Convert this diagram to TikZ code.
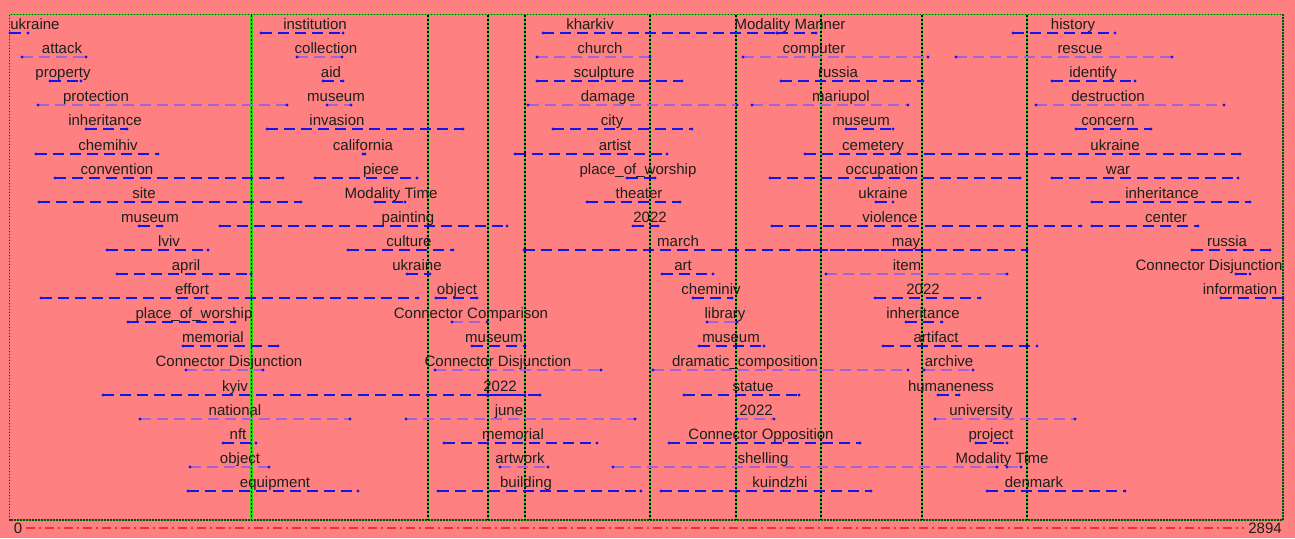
\documentclass[tikz,border=0pt]{standalone}
\usepackage{fontspec}
\setmainfont{Liberation Sans}
\definecolor{bgsalmon}{RGB}{255,128,128}
\definecolor{lnblue}{RGB}{20,20,240}
\definecolor{lnlav}{RGB}{160,100,215}
\definecolor{vgreen}{RGB}{40,220,20}
\definecolor{axred}{RGB}{235,50,50}
\definecolor{txt}{RGB}{30,30,30}
\newcommand\spanrow[7]{%
  \node[lbl] (#1) at (#2,{24+(#3-1)*24.1+5.5}) {#4};
  \coordinate (#1-a) at (#5,{round(24+(#3-1)*24.1+9)});
  \coordinate (#1-b) at (#6,{round(24+(#3-1)*24.1+9)});
  \draw[#7] (#1-a) -- (#1-b);
  \fill[endpt] (#1-a) circle[radius=1.7pt] (#1-b) circle[radius=1.7pt];
}
\begin{document}
\begin{tikzpicture}[x=1pt,y=-1pt,
  lbl/.style={anchor=base,inner sep=0pt,text=txt,font=\fontsize{15}{18}\selectfont},
  bl/.style={draw=lnblue,line width=1.8pt,dash pattern=on 11pt off 6pt},
  lv/.style={draw=lnlav,line width=1.8pt,dash pattern=on 11pt off 6pt},
  endpt/.style={fill=lnblue},
  vgrid/.style={draw=vgreen,line width=2.8pt},
  vdash/.style={draw=black,line width=1.8pt,dash pattern=on 2pt off 2pt},
  axlbl/.style={inner sep=0pt,text=txt,font=\fontsize{15}{18}\selectfont}]
\useasboundingbox (0,0) rectangle (1295,538);
\fill[bgsalmon] (0,0) rectangle (1295,538);
% frame
\coordinate (f1) at (9.5,14.7);
\coordinate (f2) at (1283,520);
\draw[draw=vgreen,line width=1.2pt] (f1) rectangle (f2);
\draw[draw=black!80,line width=1.2pt,dash pattern=on 1.5pt off 1.5pt] (f1) rectangle (f2);
% vertical lines
\foreach \vx in {251.5,428,488,525,650,736,821,922,1027}{
  \coordinate (vt) at (\vx,14.7);
  \coordinate (vb) at (\vx,520);
  \draw[vgrid] (vt) -- (vb);
  \draw[vdash] (vt) -- (vb);
}
% axis
\node[axlbl] (ax0) at (18,528) {0};
\node[axlbl] (axmax) at (1265,528) {2894};
\draw[draw=axred,line width=1.3pt,dash pattern=on 9pt off 4pt on 2pt off 4pt] ([xshift=4pt]ax0.east) -- ([xshift=-4pt]axmax.west);
% group 1
\spanrow{a1}{35}{1}{ukraine}{10}{28}{bl}
\spanrow{a2}{62}{2}{attack}{22}{86}{lv}
\spanrow{a3}{63}{3}{property}{50}{81}{bl}
\spanrow{a4}{96}{4}{protection}{38}{287}{lv}
\spanrow{a5}{105}{5}{inheritance}{86}{127}{bl}
\spanrow{a6}{108}{6}{chemihiv}{36}{158}{bl}
\spanrow{a7}{117}{7}{convention}{55}{283}{bl}
\spanrow{a8}{144}{8}{site}{39}{301}{bl}
\spanrow{a9}{150}{9}{museum}{139}{162}{bl}
\spanrow{a10}{169}{10}{lviv}{107}{208}{bl}
\spanrow{a11}{186}{11}{april}{117}{251}{bl}
\spanrow{a12}{192}{12}{effort}{41}{418}{bl}
\spanrow{a13}{194}{13}{place\_of\_worship}{128}{235}{bl}
\spanrow{a14}{213}{14}{memorial}{183}{278}{bl}
\spanrow{a15}{229}{15}{Connector Disjunction}{186}{263}{lv}
\spanrow{a16}{235}{16}{kyiv}{103}{540}{bl}
\spanrow{a17}{235}{17}{national}{140}{350}{lv}
\spanrow{a18}{238}{18}{nft}{223}{256}{bl}
\spanrow{a19}{240}{19}{object}{190}{269}{lv}
\spanrow{a20}{275}{20}{equipment}{188}{358}{bl}
% group 2
\spanrow{b1}{315}{1}{institution}{261}{343}{bl}
\spanrow{b2}{326}{2}{collection}{297}{342}{lv}
\spanrow{b3}{331}{3}{aid}{323}{343}{bl}
\spanrow{b4}{336}{4}{museum}{327}{351}{lv}
\spanrow{b5}{337}{5}{invasion}{267}{463}{bl}
\spanrow{b6}{363}{6}{california}{363}{365}{bl}
\spanrow{b7}{381}{7}{piece}{315}{417}{bl}
\spanrow{b8}{391}{8}{Modality Time}{375}{405}{bl}
\spanrow{b9}{408}{9}{painting}{220}{507}{bl}
\spanrow{b10}{409}{10}{culture}{348}{453}{bl}
\spanrow{b11}{417}{11}{ukraine}{407}{430}{bl}
\spanrow{b12}{457}{12}{object}{436}{477}{bl}
\spanrow{b13}{471}{13}{Connector Comparison}{452}{487}{lv}
\spanrow{b14}{494}{14}{museum}{472}{525}{bl}
\spanrow{b15}{498}{15}{Connector Disjunction}{435}{601}{lv}
\spanrow{b16}{500}{16}{2022}{487}{525}{bl}
\spanrow{b17}{509}{17}{june}{406}{635}{lv}
\spanrow{b18}{513}{18}{memorial}{444}{597}{bl}
\spanrow{b19}{520}{19}{artwork}{500}{548}{lv}
\spanrow{b20}{526}{20}{building}{438}{641}{bl}
% group 3
\spanrow{c1}{590}{1}{kharkiv}{543}{777}{bl}
\spanrow{c2}{600}{2}{church}{537}{650}{lv}
\spanrow{c3}{604}{3}{sculpture}{537}{682}{bl}
\spanrow{c4}{608}{4}{damage}{528}{737}{lv}
\spanrow{c5}{612}{5}{city}{553}{692}{bl}
\spanrow{c6}{615}{6}{artist}{515}{667}{bl}
\spanrow{c7}{638}{7}{place\_of\_worship}{627}{655}{bl}
\spanrow{c8}{639}{8}{theater}{587}{680}{bl}
\spanrow{c9}{650}{9}{2022}{633}{658}{bl}
\spanrow{c10}{678}{10}{march}{524}{930}{bl}
\spanrow{c11}{683}{11}{art}{662}{713}{bl}
\spanrow{c12}{711}{12}{cheminiv}{693}{732}{bl}
\spanrow{c13}{725}{13}{library}{707}{737}{lv}
\spanrow{c14}{731}{14}{museum}{699}{764}{bl}
\spanrow{c15}{745}{15}{dramatic\_composition}{653}{908}{lv}
\spanrow{c16}{753}{16}{statue}{684}{799}{bl}
\spanrow{c17}{756}{17}{2022}{737}{774}{lv}
\spanrow{c18}{761}{18}{Connector Opposition}{669}{860}{bl}
\spanrow{c19}{763}{19}{shelling}{613}{997}{lv}
\spanrow{c20}{780}{20}{kuindzhi}{661}{871}{bl}
% group 4
\spanrow{d1}{790}{1}{Modality Manner}{777}{816}{bl}
\spanrow{d2}{814}{2}{computer}{743}{928}{lv}
\spanrow{d3}{838}{3}{russia}{781}{923}{bl}
\spanrow{d4}{841}{4}{mariupol}{752}{908}{lv}
\spanrow{d5}{861}{5}{museum}{846}{893}{bl}
\spanrow{d6}{873}{6}{cemetery}{805}{1027}{bl}
\spanrow{d7}{882}{7}{occupation}{770}{1020}{bl}
\spanrow{d8}{883}{8}{ukraine}{876}{893}{bl}
\spanrow{d9}{890}{9}{violence}{772}{1081}{bl}
\spanrow{d10}{906}{10}{may}{800}{1027}{bl}
\spanrow{d11}{907}{11}{item}{826}{1007}{lv}
\spanrow{d12}{923}{12}{2022}{875}{980}{bl}
\spanrow{d13}{923}{13}{inheritance}{906}{942}{bl}
\spanrow{d14}{936}{14}{artifact}{883}{1037}{bl}
\spanrow{d15}{949}{15}{archive}{924}{973}{lv}
\spanrow{d16}{951}{16}{humaneness}{938}{959}{bl}
\spanrow{d17}{981}{17}{university}{935}{1075}{lv}
\spanrow{d18}{991}{18}{project}{976}{1007}{bl}
\spanrow{d19}{1002}{19}{Modality Time}{1007}{1021}{lv}
\spanrow{d20}{1034}{20}{denmark}{987}{1125}{bl}
% group 5
\spanrow{e1}{1073}{1}{history}{1013}{1115}{bl}
\spanrow{e2}{1080}{2}{rescue}{956}{1172}{lv}
\spanrow{e3}{1093}{3}{identify}{1052}{1135}{bl}
\spanrow{e4}{1108}{4}{destruction}{1036}{1224}{lv}
\spanrow{e5}{1108}{5}{concern}{1076}{1151}{bl}
\spanrow{e6}{1115}{6}{ukraine}{1027}{1240}{bl}
\spanrow{e7}{1118}{7}{war}{1052}{1238}{bl}
\spanrow{e8}{1162}{8}{inheritance}{1092}{1250}{bl}
\spanrow{e9}{1166}{9}{center}{1092}{1198}{bl}
\spanrow{e10}{1227}{10}{russia}{1192}{1270}{bl}
\spanrow{e11}{1209}{11}{Connector Disjunction}{1236}{1250}{bl}
\spanrow{e12}{1240}{12}{information}{1221}{1283}{bl}
\end{tikzpicture}
\end{document}
